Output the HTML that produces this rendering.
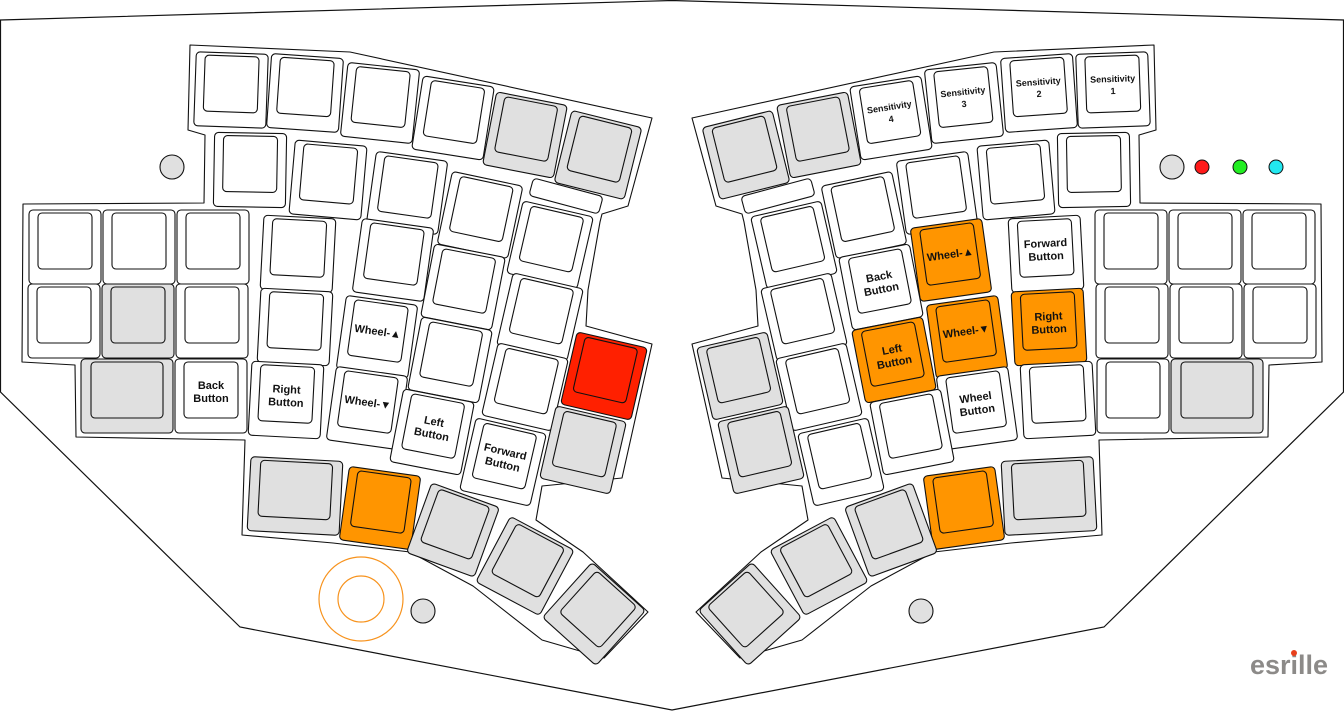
<!DOCTYPE html>
<html><head><meta charset="utf-8"><style>
html,body{margin:0;padding:0;background:#fff;width:1344px;height:711px;overflow:hidden}
svg{display:block}
text{font-family:"Liberation Sans",sans-serif;font-weight:bold;font-size:11px;text-anchor:middle;fill:#111}
.s{font-size:9px}
</style></head><body>
<svg width="1344" height="711" viewBox="0 0 1344 711" xmlns="http://www.w3.org/2000/svg">
<defs>
<g id="kw"><rect x="-36" y="-37" width="72" height="74" rx="4" fill="#fff" stroke="#111" stroke-width="1.1"/><rect x="-27" y="-34" width="54" height="56" rx="4" fill="#fff" stroke="#111" stroke-width="1.1"/></g>
<g id="kg"><rect x="-36" y="-37" width="72" height="74" rx="4" fill="#e0e0e0" stroke="#111" stroke-width="1.1"/><rect x="-27" y="-34" width="54" height="56" rx="4" fill="#e0e0e0" stroke="#111" stroke-width="1.1"/></g>
<g id="ko"><rect x="-36" y="-37" width="72" height="74" rx="4" fill="#ff9500" stroke="#111" stroke-width="1.1"/><rect x="-27" y="-34" width="54" height="56" rx="4" fill="#ff9500" stroke="#111" stroke-width="1.1"/></g>
<g id="kr"><rect x="-36" y="-37" width="72" height="74" rx="4" fill="#ff2000" stroke="#111" stroke-width="1.1"/><rect x="-27" y="-34" width="54" height="56" rx="4" fill="#ff2000" stroke="#111" stroke-width="1.1"/></g>
<g id="kgw"><rect x="-46" y="-37" width="92" height="74" rx="4" fill="#e0e0e0" stroke="#111" stroke-width="1.1"/><rect x="-36" y="-34" width="72" height="56" rx="4" fill="#e0e0e0" stroke="#111" stroke-width="1.1"/></g>
<path id="case" d="M190,45 L350,52 L652,118 L628,206 L602,214 L600,222 L588,290 L586,326 L652,344 L622,478 L542,486 L536,520 L583,552 L648,612 L604,658 L542,640 L473,586 L410,552 L333,543 L242,535 L245,440 L76,437 L75,365 L22,362 L23,204 L204,203 L205,135 L188,130 Z" fill="#fff" stroke="#111" stroke-width="1.1" stroke-linejoin="round"/>
</defs>
<path d="M0.5,20 L672,0.5 L1343.5,20 L1343.5,392 L1104,627 L672,710 L240,627 L0.5,392 Z" fill="#fff" stroke="#111" stroke-width="1.2"/>
<use href="#case"/>
<use href="#case" transform="translate(1344 0) scale(-1 1)"/>

<!-- LEFT HALF -->
<use href="#kw" transform="translate(231 90) rotate(2)"/>
<use href="#kw" transform="translate(305 93) rotate(4)"/>
<use href="#kw" transform="translate(380 103) rotate(6)"/>
<use href="#kw" transform="translate(453 118) rotate(9)"/>
<use href="#kg" transform="translate(525 135) rotate(11)"/>
<use href="#kg" transform="translate(598 155) rotate(14)"/>

<use href="#kw" transform="translate(250 170) rotate(1)"/>
<use href="#kw" transform="translate(328 180) rotate(5)"/>
<use href="#kw" transform="translate(407 193) rotate(8)"/>
<use href="#kw" transform="translate(480 215) rotate(12)"/>
<rect x="-36" y="-9" width="72" height="18" rx="4" fill="#fff" stroke="#111" stroke-width="1.1" transform="translate(566 196) rotate(15)"/>

<use href="#kw" transform="translate(65 247)"/>
<use href="#kw" transform="translate(139 247)"/>
<use href="#kw" transform="translate(213 247)"/>
<use href="#kw" transform="translate(298 254) rotate(3)"/>
<use href="#kw" transform="translate(393 260) rotate(8)"/>
<use href="#kw" transform="translate(463 287) rotate(11)"/>
<use href="#kw" transform="translate(550 245) rotate(13)"/>

<use href="#kw" transform="translate(64 321)"/>
<use href="#kg" transform="translate(138 321)"/>
<use href="#kw" transform="translate(212 321)"/>
<use href="#kw" transform="translate(295 327) rotate(3)"/>
<use href="#kw" transform="translate(377 337) rotate(8)"/>
<use href="#kw" transform="translate(450 360) rotate(11)"/>
<use href="#kw" transform="translate(540 317) rotate(13)"/>

<use href="#kgw" transform="translate(127 396)"/>
<use href="#kw" transform="translate(211 396)"/>
<use href="#kw" transform="translate(286 400) rotate(3)"/>
<use href="#kw" transform="translate(367 408) rotate(8)"/>
<use href="#kw" transform="translate(432 432) rotate(11)"/>
<use href="#kw" transform="translate(525 387) rotate(13)"/>
<use href="#kw" transform="translate(503 462) rotate(13)"/>

<use href="#kr" transform="translate(604 376) rotate(13)"/>
<use href="#kg" transform="translate(583 450) rotate(13)"/>

<use href="#kgw" transform="translate(295 496) rotate(3)"/>
<use href="#ko" transform="translate(380 508) rotate(8)"/>
<use href="#kg" transform="translate(453 530) rotate(20)"/>
<use href="#kg" transform="translate(525 566) rotate(28)"/>
<use href="#kg" transform="translate(594 614) rotate(42)"/>

<g transform="translate(211 396)"><text y="-7">Back</text><text y="6">Button</text></g>
<g transform="translate(286 400) rotate(3)"><text y="-7">Right</text><text y="6">Button</text></g>
<g transform="translate(377 337) rotate(8)"><text y="-2">Wheel-▲</text></g>
<g transform="translate(367 408) rotate(8)"><text y="-2">Wheel-▼</text></g>
<g transform="translate(432 432) rotate(11)"><text y="-7">Left</text><text y="6">Button</text></g>
<g transform="translate(503 462) rotate(13)"><text y="-7">Forward</text><text y="6">Button</text></g>

<circle cx="361" cy="599" r="42" fill="none" stroke="#f7931e" stroke-width="1.2"/>
<circle cx="361" cy="599" r="23" fill="none" stroke="#f7931e" stroke-width="1.2"/>
<circle cx="423" cy="611" r="12" fill="#e0e0e0" stroke="#111" stroke-width="1.1"/>
<circle cx="172" cy="167" r="12" fill="#e0e0e0" stroke="#111" stroke-width="1.1"/>

<!-- RIGHT HALF -->
<use href="#kw" transform="translate(1113 90) rotate(-2)"/>
<use href="#kw" transform="translate(1039 93) rotate(-4)"/>
<use href="#kw" transform="translate(964 103) rotate(-6)"/>
<use href="#kw" transform="translate(891 118) rotate(-9)"/>
<use href="#kg" transform="translate(819 135) rotate(-11)"/>
<use href="#kg" transform="translate(746 155) rotate(-14)"/>

<use href="#kw" transform="translate(1094 170) rotate(-1)"/>
<use href="#kw" transform="translate(1016 180) rotate(-5)"/>
<use href="#kw" transform="translate(937 193) rotate(-8)"/>
<use href="#kw" transform="translate(864 215) rotate(-12)"/>
<rect x="-36" y="-9" width="72" height="18" rx="4" fill="#fff" stroke="#111" stroke-width="1.1" transform="translate(778 196) rotate(-15)"/>

<use href="#kw" transform="translate(1279 247)"/>
<use href="#kw" transform="translate(1205 247)"/>
<use href="#kw" transform="translate(1131 247)"/>
<use href="#kw" transform="translate(1046 254) rotate(-3)"/>
<use href="#ko" transform="translate(951 260) rotate(-8)"/>
<use href="#kw" transform="translate(881 287) rotate(-11)"/>
<use href="#kw" transform="translate(794 245) rotate(-13)"/>

<use href="#kw" transform="translate(1280 321)"/>
<use href="#kw" transform="translate(1206 321)"/>
<use href="#kw" transform="translate(1132 321)"/>
<use href="#ko" transform="translate(1049 327) rotate(-3)"/>
<use href="#ko" transform="translate(967 337) rotate(-8)"/>
<use href="#ko" transform="translate(894 360) rotate(-11)"/>
<use href="#kw" transform="translate(804 317) rotate(-13)"/>

<use href="#kgw" transform="translate(1217 396)"/>
<use href="#kw" transform="translate(1133 396)"/>
<use href="#kw" transform="translate(1058 400) rotate(-3)"/>
<use href="#kw" transform="translate(977 408) rotate(-8)"/>
<use href="#kw" transform="translate(912 432) rotate(-11)"/>
<use href="#kw" transform="translate(819 387) rotate(-13)"/>
<use href="#kw" transform="translate(841 462) rotate(-13)"/>

<use href="#kg" transform="translate(740 376) rotate(-13)"/>
<use href="#kg" transform="translate(761 450) rotate(-13)"/>

<use href="#kgw" transform="translate(1049 496) rotate(-3)"/>
<use href="#ko" transform="translate(964 508) rotate(-8)"/>
<use href="#kg" transform="translate(891 530) rotate(-20)"/>
<use href="#kg" transform="translate(819 566) rotate(-28)"/>
<use href="#kg" transform="translate(750 614) rotate(-42)"/>

<g transform="translate(1113 90) rotate(-2)"><text class="s" y="-8">Sensitivity</text><text class="s" y="4">1</text></g>
<g transform="translate(1039 93) rotate(-4)"><text class="s" y="-8">Sensitivity</text><text class="s" y="4">2</text></g>
<g transform="translate(964 103) rotate(-6)"><text class="s" y="-8">Sensitivity</text><text class="s" y="4">3</text></g>
<g transform="translate(891 118) rotate(-9)"><text class="s" y="-8">Sensitivity</text><text class="s" y="4">4</text></g>
<g transform="translate(1046 254) rotate(-3)"><text y="-7">Forward</text><text y="6">Button</text></g>
<g transform="translate(951 260) rotate(-8)"><text y="-2">Wheel-▲</text></g>
<g transform="translate(881 287) rotate(-11)"><text y="-7">Back</text><text y="6">Button</text></g>
<g transform="translate(1049 327) rotate(-3)"><text y="-7">Right</text><text y="6">Button</text></g>
<g transform="translate(967 337) rotate(-8)"><text y="-2">Wheel-▼</text></g>
<g transform="translate(894 360) rotate(-11)"><text y="-7">Left</text><text y="6">Button</text></g>
<g transform="translate(977 408) rotate(-8)"><text y="-7">Wheel</text><text y="6">Button</text></g>

<circle cx="921" cy="611" r="12" fill="#e0e0e0" stroke="#111" stroke-width="1.1"/>
<circle cx="1172" cy="167" r="12" fill="#e0e0e0" stroke="#111" stroke-width="1.1"/>
<circle cx="1202" cy="167" r="7" fill="#ff1a1a" stroke="#111" stroke-width="1"/>
<circle cx="1240" cy="167" r="7" fill="#22ee22" stroke="#111" stroke-width="1"/>
<circle cx="1276" cy="167" r="7" fill="#22e8f0" stroke="#111" stroke-width="1"/>

<text x="1289" y="674" style="font-size:27px;fill:#8c8a88;font-weight:bold">esrille</text>
<circle cx="1294" cy="653" r="3" fill="#e8401c"/>
</svg>
</body></html>
